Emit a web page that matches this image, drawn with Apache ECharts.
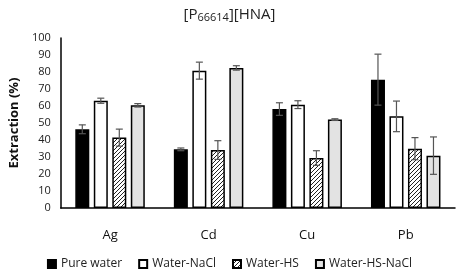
<!DOCTYPE html>
<html>
<head>
<meta charset="utf-8">
<script src="https://cdn.jsdelivr.net/npm/echarts@6/dist/echarts.min.js"></script>
<style>
  html, body { margin: 0; padding: 0; background: #fff; }
  #chart { width: 459px; height: 272px; }
</style>
</head>
<body>
<div id="chart"></div>
<script>
const categories = ['Ag', 'Cd', 'Cu', 'Pb']
const seriesNames = ['Pure water', 'Water-NaCl', 'Water-HS', 'Water-HS-NaCl']
const pureWater = [46.3, 34.5, 58.2, 75.5]
const waterNaCl = [63.1, 80.8, 60.8, 53.9]
const waterHS = [41.4, 34.1, 29.4, 34.9]
const waterHSNaCl = [60.4, 82.4, 52.0, 30.8]
const errPureWater = [2.6, 0.8, 3.7, 15]
const errWaterNaCl = [1.5, 5, 2.3, 9]
const errWaterHS = [5, 5.5, 4.3, 6.5]
const errWaterHSNaCl = [1, 1.3, 0.5, 11]
const yTicks = [0, 100, 10]

const values = [pureWater, waterNaCl, waterHS, waterHSNaCl]
const errors = [errPureWater, errWaterNaCl, errWaterHS, errWaterHSNaCl]

// hatch pattern for Water-HS
const hatch = document.createElement('canvas')
hatch.width = 4
hatch.height = 4
const hctx = hatch.getContext('2d')
hctx.fillStyle = '#fff'
hctx.fillRect(0, 0, 4, 4)
hctx.strokeStyle = '#222'
hctx.lineWidth = 1
hctx.beginPath()
hctx.moveTo(0, 4); hctx.lineTo(4, 0)
hctx.moveTo(-1, 1); hctx.lineTo(1, -1)
hctx.moveTo(3, 5); hctx.lineTo(5, 3)
hctx.stroke()

const fills = ['#000', '#fff', { image: hatch, repeat: 'repeat' }, '#e3e3e3']
const barWidth = 14
const barGapPx = 4.5

const chart = echarts.init(document.getElementById('chart'))

const barSeries = seriesNames.map((name, i) => ({
  name,
  type: 'bar',
  barWidth,
  barGap: (barGapPx / barWidth * 100) + '%',
  data: values[i],
  itemStyle: { color: fills[i], borderColor: '#000', borderWidth: 1.5 },
  z: 2
}))

// error bars, one custom series per bar series
const errSeries = seriesNames.map((name, i) => ({
  type: 'custom',
  name: name + '-err',
  z: 5,
  data: values[i].map((v, k) => [k, v - errors[i][k], v + errors[i][k]]),
  renderItem: function (params, api) {
    const lo = api.coord([api.value(0), api.value(1)])
    const hi = api.coord([api.value(0), api.value(2)])
    const groupW = 4 * barWidth + 3 * barGapPx
    const x = lo[0] - groupW / 2 + barWidth / 2 + i * (barWidth + barGapPx)
    const cap = 3.5
    const style = { stroke: '#555', lineWidth: 1.2 }
    return {
      type: 'group',
      children: [
        { type: 'line', shape: { x1: x, y1: lo[1], x2: x, y2: hi[1] }, style },
        { type: 'line', shape: { x1: x - cap, y1: lo[1], x2: x + cap, y2: lo[1] }, style },
        { type: 'line', shape: { x1: x - cap, y1: hi[1], x2: x + cap, y2: hi[1] }, style }
      ]
    }
  }
}))

const option = {
  backgroundColor: '#fff',
  animation: false,
  textStyle: { fontFamily: 'Open Sans' },
  title: {
    text: '[P{sub|66614}][HNA]',
    left: 'center',
    top: 1,
    textStyle: {
      fontSize: 15,
      fontWeight: 'normal',
      color: '#222',
      rich: { sub: { fontSize: 11, color: '#222', padding: [6, 0, 0, 0] } }
    }
  },
  grid: { left: 52, right: 4, top: 38, bottom: 64 },
  legend: {
    data: seriesNames.map(n => ({ name: n, icon: 'rect' })),
    bottom: 2,
    padding: [0, 5],
    left: 'center',
    itemWidth: 8,
    itemHeight: 8,
    itemGap: 16,
    textStyle: { fontSize: 12, color: '#222' }
  },
  xAxis: {
    type: 'category',
    data: categories,
    axisLine: { lineStyle: { color: '#000', width: 1.5 } },
    axisTick: { show: false },
    axisLabel: { fontSize: 13, color: '#111', margin: 21 }
  },
  yAxis: {
    type: 'value',
    min: yTicks[0],
    max: yTicks[1],
    interval: yTicks[2],
    name: 'Extraction (%)',
    nameLocation: 'middle',
    nameGap: 31,
    nameTextStyle: { fontSize: 13, fontWeight: 'bold', color: '#111' },
    axisLine: { show: true, lineStyle: { color: '#000', width: 1.5 } },
    axisTick: { show: false },
    splitLine: { show: false },
    axisLabel: { fontSize: 11, color: '#222', margin: 10 }
  },
  series: [...barSeries, ...errSeries]
}

chart.setOption(option)
</script>
</body>
</html>
